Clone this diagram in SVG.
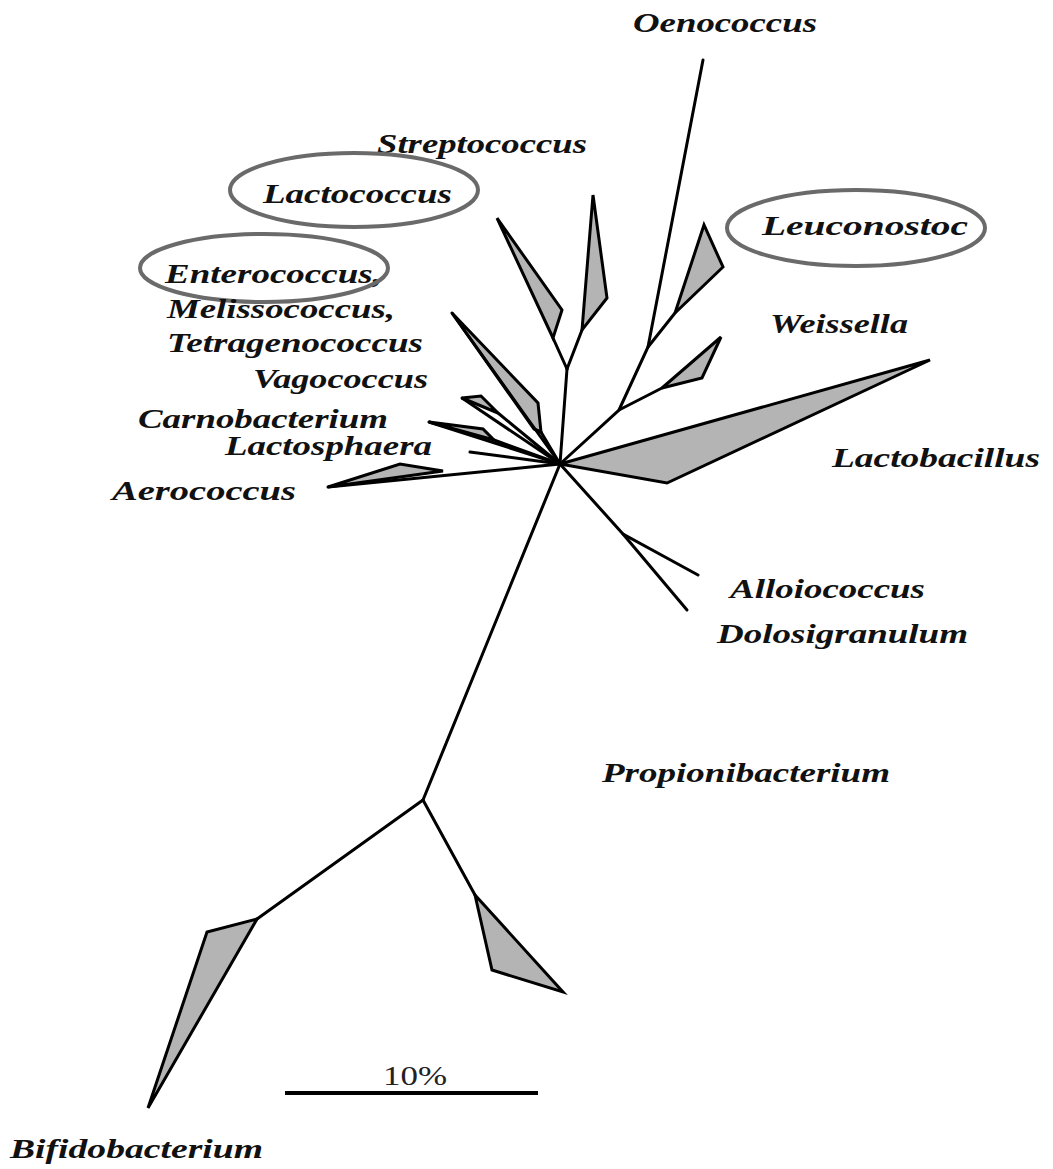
<svg xmlns="http://www.w3.org/2000/svg" width="1053" height="1169" viewBox="0 0 1053 1169">
<style>
.ln{fill:none;stroke:#000;stroke-width:3;stroke-linejoin:miter;stroke-linecap:round}
.cl{fill:#b4b4b4;stroke:#000;stroke-width:3;stroke-linejoin:miter}
.lb{font-family:"Liberation Serif","Times New Roman",serif;font-style:italic;font-weight:bold;font-size:27px;fill:#111}
.ov{fill:none;stroke:#6a6a6a;stroke-width:4}
.sc{font-family:"Liberation Serif","Times New Roman",serif;font-size:28px;fill:#222}
</style>
<rect width="1053" height="1169" fill="#fff"/>
<g id="connectors">
  <polyline class="ln" points="560,464 619,410 648,347 703,60"/>
  <line class="ln" x1="648" y1="347" x2="675" y2="313"/>
  <polygon class="cl" points="675,313 704,225 723,267"/>
  <line class="ln" x1="619" y1="410" x2="662" y2="388"/>
  <polygon class="cl" points="662,388 721,337 702,378"/>
  <polygon class="cl" points="560,464 930,360 667,483"/>
  <line class="ln" x1="560" y1="464" x2="567" y2="369"/>
  <line class="ln" x1="567" y1="369" x2="582" y2="330"/>
  <polygon class="cl" points="582,330 593,195 607,298"/>
  <line class="ln" x1="567" y1="369" x2="553" y2="338"/>
  <polygon class="cl" points="553,338 497,218 562,310"/>
  <polygon class="cl" points="452,313 538,403 541,432 534,429"/>
  <line class="ln" x1="452" y1="313" x2="560" y2="464"/>
  <line class="ln" x1="541" y1="432" x2="560" y2="464"/>
  <polygon class="cl" points="462,398 481,396 498,413"/>
  <line class="ln" x1="462" y1="398" x2="560" y2="464"/>
  <line class="ln" x1="498" y1="413" x2="560" y2="464"/>
  <polygon class="cl" points="429,422 483,429 494,440"/>
  <line class="ln" x1="429" y1="422" x2="560" y2="464"/>
  <line class="ln" x1="494" y1="440" x2="560" y2="464"/>
  <line class="ln" x1="470" y1="452" x2="560" y2="464"/>
  <polygon class="cl" points="328,487 400,464 443,471"/>
  <line class="ln" x1="328" y1="487" x2="560" y2="464"/>
  <polyline class="ln" points="560,464 623,534 698,575"/>
  <line class="ln" x1="623" y1="534" x2="687" y2="610"/>
  <line class="ln" x1="560" y1="464" x2="423" y2="800"/>
  <line class="ln" x1="423" y1="800" x2="257" y2="919"/>
  <polygon class="cl" points="257,919 207,932 148,1108"/>
  <line class="ln" x1="423" y1="800" x2="475" y2="895"/>
  <polygon class="cl" points="475,895 492,970 563,992"/>
</g>
<g id="oenococcus"><text class="lb" x="633" y="32" textLength="184" lengthAdjust="spacingAndGlyphs">Oenococcus</text></g>
<g id="streptococcus"><text class="lb" x="377" y="153" textLength="210" lengthAdjust="spacingAndGlyphs">Streptococcus</text></g>
<g id="lactococcus"><text class="lb" x="263" y="203" textLength="189" lengthAdjust="spacingAndGlyphs">Lactococcus</text><ellipse class="ov" cx="354" cy="190" rx="124" ry="37"/></g>
<g id="enterococcus"><text class="lb" x="165" y="283" textLength="217" lengthAdjust="spacingAndGlyphs">Enterococcus,</text><ellipse class="ov" cx="264" cy="268" rx="124" ry="34"/></g>
<g id="melissococcus"><text class="lb" x="167" y="318" textLength="228" lengthAdjust="spacingAndGlyphs">Melissococcus,</text></g>
<g id="tetragenococcus"><text class="lb" x="167" y="352" textLength="256" lengthAdjust="spacingAndGlyphs">Tetragenococcus</text></g>
<g id="vagococcus"><text class="lb" x="253" y="388" textLength="175" lengthAdjust="spacingAndGlyphs">Vagococcus</text></g>
<g id="carnobacterium"><text class="lb" x="138" y="428" textLength="250" lengthAdjust="spacingAndGlyphs">Carnobacterium</text></g>
<g id="lactosphaera"><text class="lb" x="225" y="455" textLength="207" lengthAdjust="spacingAndGlyphs">Lactosphaera</text></g>
<g id="aerococcus"><text class="lb" x="112" y="500" textLength="184" lengthAdjust="spacingAndGlyphs">Aerococcus</text></g>
<g id="leuconostoc"><text class="lb" x="762" y="235" textLength="206" lengthAdjust="spacingAndGlyphs">Leuconostoc</text><ellipse class="ov" cx="856" cy="228" rx="129" ry="38"/></g>
<g id="weissella"><text class="lb" x="770" y="333" textLength="138" lengthAdjust="spacingAndGlyphs">Weissella</text></g>
<g id="lactobacillus"><text class="lb" x="832" y="467" textLength="208" lengthAdjust="spacingAndGlyphs">Lactobacillus</text></g>
<g id="alloiococcus"><text class="lb" x="730" y="598" textLength="195" lengthAdjust="spacingAndGlyphs">Alloiococcus</text></g>
<g id="dolosigranulum"><text class="lb" x="717" y="643" textLength="251" lengthAdjust="spacingAndGlyphs">Dolosigranulum</text></g>
<g id="propionibacterium"><text class="lb" x="602" y="782" textLength="288" lengthAdjust="spacingAndGlyphs">Propionibacterium</text></g>
<g id="bifidobacterium"><text class="lb" x="10" y="1158" textLength="253" lengthAdjust="spacingAndGlyphs">Bifidobacterium</text></g>
<g id="scalebar">
  <line x1="285" y1="1093" x2="538" y2="1093" stroke="#000" stroke-width="4"/>
  <text class="sc" x="383" y="1085" textLength="64" lengthAdjust="spacingAndGlyphs">10%</text>
</g>
</svg>
